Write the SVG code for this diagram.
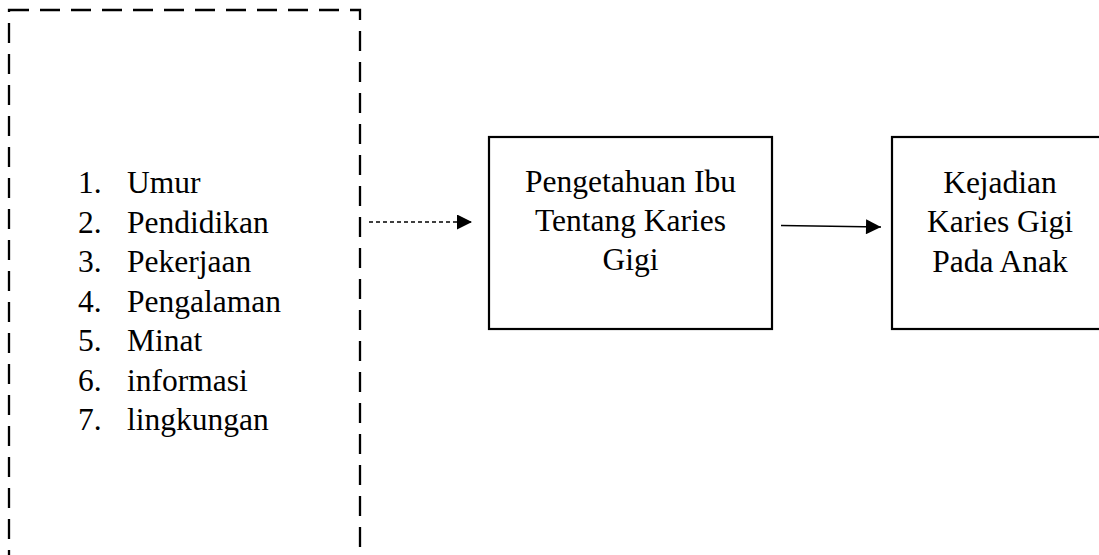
<svg xmlns="http://www.w3.org/2000/svg" width="1099" height="555" viewBox="0 0 1099 555">
<defs>
<style>
.t{font-family:"Liberation Serif","Times New Roman",serif;font-size:31.5px;fill:#000}
.box{fill:none;stroke:#000;stroke-width:2.2}
</style>
<marker id="ah" viewBox="0 0 10 10" refX="10" refY="5" markerUnits="userSpaceOnUse" markerWidth="16" markerHeight="15" orient="auto">
<path d="M0,0 L10,5 L0,10 Z" fill="#000"/>
</marker>
</defs>
<rect width="1099" height="555" fill="#fff"/>
<g id="factors">
<rect x="9" y="10" width="351" height="580" fill="none" stroke="#000" stroke-width="2.3" stroke-dasharray="20 11"/>
<text class="t" x="78" y="193">1.</text><text class="t" x="127" y="193">Umur</text>
<text class="t" x="78" y="232.5">2.</text><text class="t" x="127" y="232.5">Pendidikan</text>
<text class="t" x="78" y="272">3.</text><text class="t" x="127" y="272">Pekerjaan</text>
<text class="t" x="78" y="311.5">4.</text><text class="t" x="127" y="311.5">Pengalaman</text>
<text class="t" x="78" y="351">5.</text><text class="t" x="127" y="351">Minat</text>
<text class="t" x="78" y="390.5">6.</text><text class="t" x="127" y="390.5">informasi</text>
<text class="t" x="78" y="430">7.</text><text class="t" x="127" y="430">lingkungan</text>
</g>
<g id="pengetahuan">
<rect class="box" x="489" y="137" width="283" height="192"/>
<text class="t" x="630.5" y="192" text-anchor="middle">Pengetahuan Ibu</text>
<text class="t" x="630.5" y="231" text-anchor="middle">Tentang Karies</text>
<text class="t" x="630.5" y="270" text-anchor="middle">Gigi</text>
</g>
<g id="kejadian">
<rect class="box" x="892" y="137" width="218" height="192"/>
<text class="t" x="1000" y="193" text-anchor="middle">Kejadian</text>
<text class="t" x="1000" y="232" text-anchor="middle">Karies Gigi</text>
<text class="t" x="1000" y="272" text-anchor="middle">Pada Anak</text>
</g>
<g id="connectors">
<line x1="369" y1="222" x2="472" y2="222" stroke="#000" stroke-width="1.3" stroke-dasharray="4 3" marker-end="url(#ah)"/>
<line x1="781" y1="225.5" x2="881" y2="227" stroke="#000" stroke-width="1.3" marker-end="url(#ah)"/>
</g>
</svg>
